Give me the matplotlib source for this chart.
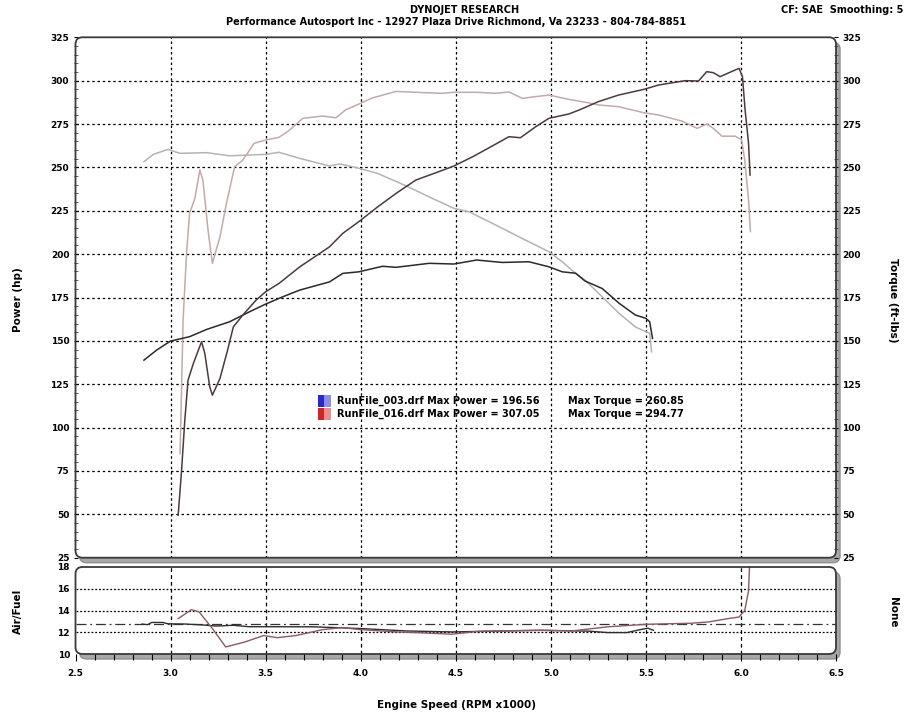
import matplotlib
matplotlib.use("Agg")
import matplotlib.pyplot as plt
import numpy as np
from matplotlib.patches import FancyBboxPatch, Rectangle
from matplotlib.transforms import IdentityTransform
from matplotlib.ticker import MultipleLocator

# ---------------- data ----------------
rpm003 = [2.86, 2.927, 3.0, 3.10, 3.19, 3.31, 3.416, 3.5, 3.59, 3.68, 3.836, 3.906, 3.99,
          4.115, 4.186, 4.36, 4.49, 4.61, 4.745, 4.885, 4.99, 5.06, 5.13, 5.18, 5.27, 5.36,
          5.445, 5.5, 5.52, 5.535]
pwr003 = [138.9, 144.7, 149.9, 152.4, 156.6, 161.0, 166.8, 171.2, 175.4, 179.3, 184.0, 188.9,
          189.8, 193.0, 192.4, 194.7, 194.3, 196.6, 195.2, 195.6, 192.7, 189.8, 189.0, 184.5,
          180.2, 171.6, 164.9, 163.0, 161.0, 151.4]
rpm003_t = [2.86, 2.909, 2.987, 3.049, 3.19, 3.31, 3.5, 3.57, 3.68, 3.836, 3.89, 3.99, 4.09,
            4.25, 4.36, 4.49, 4.57, 4.71, 4.85, 4.99, 5.06, 5.11, 5.18, 5.27, 5.36, 5.445,
            5.52, 5.53]
trq003 = [253.3, 257.5, 260.4, 258.1, 258.5, 256.7, 257.5, 258.7, 255.2, 250.8, 252.0, 249.5,
          246.5, 238.8, 233.0, 226.4, 224.4, 216.8, 209.0, 201.4, 195.6, 190.8, 185.0, 175.4,
          165.8, 158.0, 154.3, 143.7]

rpm016 = [3.04, 3.058, 3.075, 3.092, 3.12, 3.163, 3.18, 3.206, 3.22, 3.26, 3.30, 3.33, 3.38,
          3.45, 3.5, 3.57, 3.68, 3.836, 3.906, 3.99, 4.09, 4.186, 4.29, 4.41, 4.49, 4.59, 4.67,
          4.78, 4.84, 4.92, 4.99, 5.095, 5.147, 5.25, 5.356, 5.49, 5.567, 5.707, 5.777, 5.82,
          5.855, 5.89, 5.95, 5.99, 6.008, 6.022, 6.04, 6.048]
pwr016 = [49.5, 75.5, 104.3, 127.4, 137.0, 149.5, 142.8, 123.5, 118.7, 128.4, 144.7, 158.0,
          164.9, 173.5, 178.3, 183.1, 192.7, 204.2, 212.0, 218.7, 227.3, 235.0, 242.7, 247.5,
          250.8, 256.2, 261.0, 267.7, 267.1, 273.4, 278.3, 280.8, 283.0, 287.9, 291.7, 295.0,
          297.5, 300.0, 299.8, 305.2, 304.6, 302.3, 305.2, 307.1, 302.3, 283.0, 263.9, 245.6]
rpm016_t = [3.05, 3.066, 3.084, 3.10, 3.128, 3.154, 3.17, 3.197, 3.22, 3.26, 3.294, 3.337,
            3.38, 3.44, 3.50, 3.57, 3.626, 3.696, 3.80, 3.87, 3.92, 3.99, 4.06, 4.186, 4.29,
            4.43, 4.49, 4.61, 4.71, 4.78, 4.85, 4.92, 4.99, 5.095, 5.2, 5.25, 5.356, 5.49,
            5.567, 5.69, 5.77, 5.82, 5.855, 5.9, 5.97, 6.004, 6.02, 6.04, 6.05]
trq016 = [85.0, 162.0, 200.4, 223.5, 232.2, 248.5, 242.7, 213.9, 194.7, 210.0, 229.3, 250.4,
          254.2, 263.9, 265.8, 267.3, 271.5, 278.3, 279.6, 278.6, 283.1, 286.5, 290.0, 293.8,
          293.3, 292.7, 293.3, 293.3, 292.7, 293.5, 289.8, 290.8, 291.7, 289.2, 287.2, 286.0,
          285.0, 281.5, 280.2, 276.7, 272.5, 275.0, 272.5, 268.0, 268.0, 265.8, 254.2, 231.2,
          213.0]

afr_rpm003 = [2.85, 2.88, 2.90, 2.96, 2.98, 3.0, 3.07, 3.17, 3.24, 3.33, 3.41, 3.75, 4.0,
              4.24, 4.48, 4.7, 4.96, 5.2, 5.3, 5.4, 5.47, 5.51, 5.54]
afr003 = [12.75, 12.7, 12.9, 12.9, 12.8, 12.77, 12.76, 12.67, 12.57, 12.64, 12.51, 12.5, 12.34,
          12.12, 12.03, 12.1, 12.18, 12.1, 11.97, 11.97, 12.24, 12.37, 12.18]
afr_rpm016 = [3.04, 3.11, 3.15, 3.22, 3.29, 3.39, 3.49, 3.56, 3.66, 3.8, 3.9, 4.0, 4.19, 4.33,
              4.48, 4.62, 4.92, 5.11, 5.3, 5.5, 5.74, 5.83, 5.93, 5.99, 6.02, 6.04, 6.045]
afr016 = [13.25, 14.08, 13.87, 12.34, 10.65, 11.1, 11.7, 11.5, 11.7, 12.24, 12.43, 12.24,
          12.03, 11.94, 11.82, 12.09, 12.18, 12.12, 12.5, 12.73, 12.83, 12.95, 13.25, 13.4,
          14.0, 15.8, 18.0]
afr_ref = 12.8

legend_files = ["RunFile_003.drf", "RunFile_016.drf"]
legend_power = ["196.56", "307.05"]
legend_torque = ["260.85", "294.77"]

power_ticks = list(range(25, 326, 25))
afr_ticks = [10, 12, 14, 16, 18]
rpm_ticks = [2.5, 3.0, 3.5, 4.0, 4.5, 5.0, 5.5, 6.0, 6.5]

# ---------------- figure ----------------
W, H = 913, 720
fig = plt.figure(figsize=(W / 100, H / 100), dpi=100)
fig.patch.set_facecolor("white")

FONT = "DejaVu Sans"
TICKFS = 6.5

def fx(px):
    return px / W

def fy(py):
    return 1 - py / H

LEFT, RIGHT = 75.5, 836.0
MTOP, MBOT = 37.3, 557.7
BTOP, BBOT = 567.0, 654.0

ax = fig.add_axes([fx(LEFT), fy(MBOT), (RIGHT - LEFT) / W, (MBOT - MTOP) / H])
axb = fig.add_axes([fx(LEFT), fy(BBOT), (RIGHT - LEFT) / W, (BBOT - BTOP) / H])

def frame(top, bot):
    x0, y0 = LEFT, H - bot
    w, h = RIGHT - LEFT, bot - top
    sh = FancyBboxPatch((x0 + 4, y0 - 5), w, h, boxstyle="round,pad=0,rounding_size=7",
                        transform=IdentityTransform(), facecolor="#a8a8a8", edgecolor="#909090",
                        lw=1, zorder=-3)
    fill = FancyBboxPatch((x0, y0), w, h, boxstyle="round,pad=0,rounding_size=7",
                          transform=IdentityTransform(), facecolor="white", edgecolor="none",
                          zorder=-2)
    border = FancyBboxPatch((x0, y0), w, h, boxstyle="round,pad=0,rounding_size=7",
                            transform=IdentityTransform(), facecolor="none", edgecolor="#3a3a3a",
                            lw=1.3, zorder=10)
    fig.patches.extend([sh, fill, border])

frame(MTOP, MBOT)
frame(BTOP, BBOT)

grid_kw = dict(color="black", lw=0.9, linestyle=(0, (2.0, 2.2)), zorder=1)

# main panel
ax.set_facecolor("none")
ax.set_xlim(2.5, 6.5)
ax.set_ylim(25, 325)
for s in ax.spines.values():
    s.set_visible(False)
for v in power_ticks[1:-1]:
    ax.axhline(v, **grid_kw)
for r in rpm_ticks[1:-1]:
    ax.axvline(r, **grid_kw)

ax.plot(rpm003_t, trq003, color="#b4b4b4", lw=1.1, zorder=3)
ax.plot(rpm016_t, trq016, color="#c4aaaa", lw=1.1, zorder=3)
ax.plot(rpm003, pwr003, color="#2a2a2a", lw=1.1, zorder=4)
ax.plot(rpm016, pwr016, color="#4e3a3c", lw=1.1, zorder=4)

ax.set_yticks(power_ticks)
ax.yaxis.set_minor_locator(MultipleLocator(5))
ax.set_xticks([])
ax.tick_params(axis="y", which="major", left=True, right=True, labelleft=True, labelright=True,
               length=3, width=0.8, direction="inout", pad=3, labelsize=TICKFS, colors="black")
ax.tick_params(axis="y", which="minor", left=True, right=True, length=3, width=0.6,
               direction="inout", color="#444444")
for lab in ax.get_yticklabels():
    lab.set_fontweight("bold")
    lab.set_fontfamily(FONT)

# bottom panel
axb.set_facecolor("none")
axb.set_xlim(2.5, 6.5)
axb.set_ylim(10, 18)
for s in axb.spines.values():
    s.set_visible(False)
for v in afr_ticks[1:-1]:
    axb.axhline(v, color="black", lw=0.9, linestyle=(0, (1.5, 1.5)), zorder=1)
for r in rpm_ticks[1:-1]:
    axb.axvline(r, color="black", lw=0.9, linestyle=(0, (3, 2.5)), zorder=1)
axb.axhline(afr_ref, color="#333333", lw=0.9, linestyle=(0, (8, 3, 1.5, 3)), zorder=1)
axb.plot(afr_rpm003, afr003, color="#2e2e2e", lw=1.0, zorder=3)
axb.plot(afr_rpm016, afr016, color="#8a5a62", lw=1.0, zorder=3)

axb.set_yticks(afr_ticks)
axb.set_xticks(rpm_ticks)
axb.set_xticklabels([f"{r:.1f}" for r in rpm_ticks])
axb.xaxis.set_minor_locator(MultipleLocator(0.1))
axb.tick_params(axis="y", left=True, right=False, labelleft=True, length=0, pad=4,
                labelsize=TICKFS)
axb.tick_params(axis="x", which="major", bottom=True, length=5, width=0.8, direction="out",
                pad=6, labelsize=TICKFS)
axb.tick_params(axis="x", which="minor", bottom=True, length=4, width=0.8, direction="out")
for lab in axb.get_yticklabels() + axb.get_xticklabels():
    lab.set_fontweight("bold")
    lab.set_fontfamily(FONT)

# ---------------- texts ----------------
tkw = dict(fontfamily=FONT, fontweight="bold", color="black")
fig.text(fx(465), fy(10), "DYNOJET RESEARCH", ha="center", va="center", fontsize=7.0, **tkw)
fig.text(fx(456), fy(22), "Performance Autosport Inc - 12927 Plaza Drive Richmond, Va 23233 - 804-784-8851",
         ha="center", va="center", fontsize=7.0, **tkw)
fig.text(fx(903), fy(10), "CF: SAE  Smoothing: 5", ha="right", va="center", fontsize=7.0, **tkw)

fig.text(fx(18), fy(300), "Power (hp)", rotation=90, ha="center", va="center", fontsize=7.5, **tkw)
fig.text(fx(893), fy(300), "Torque (ft-lbs)", rotation=270, ha="center", va="center", fontsize=7.5, **tkw)
fig.text(fx(18), fy(611), "Air/Fuel", rotation=90, ha="center", va="center", fontsize=7.5, **tkw)
fig.text(fx(893), fy(612), "None", rotation=270, ha="center", va="center", fontsize=7.5, **tkw)
fig.text(fx(456), fy(705), "Engine Speed (RPM x1000)", ha="center", va="center", fontsize=7.5, **tkw)

# legend
leg_y = [401, 414]
leg_cols = [("#2828c8", "#8c8cf0"), ("#c82828", "#f08c8c")]
for i in range(2):
    yy = leg_y[i]
    c1, c2 = leg_cols[i]
    fig.patches.append(Rectangle((fx(318), fy(yy + 6)), 6 / W, 12 / H, transform=fig.transFigure,
                                 facecolor=c1, edgecolor="none", zorder=11))
    fig.patches.append(Rectangle((fx(324), fy(yy + 6)), 7 / W, 12 / H, transform=fig.transFigure,
                                 facecolor=c2, edgecolor="none", zorder=11))
    fig.text(fx(337), fy(yy), f"{legend_files[i]} Max Power = {legend_power[i]}",
             ha="left", va="center", fontsize=7, zorder=12, **tkw)
    fig.text(fx(568), fy(yy), f"Max Torque = {legend_torque[i]}",
             ha="left", va="center", fontsize=7, zorder=12, **tkw)

fig.savefig("out.png", dpi=100, facecolor="white")
